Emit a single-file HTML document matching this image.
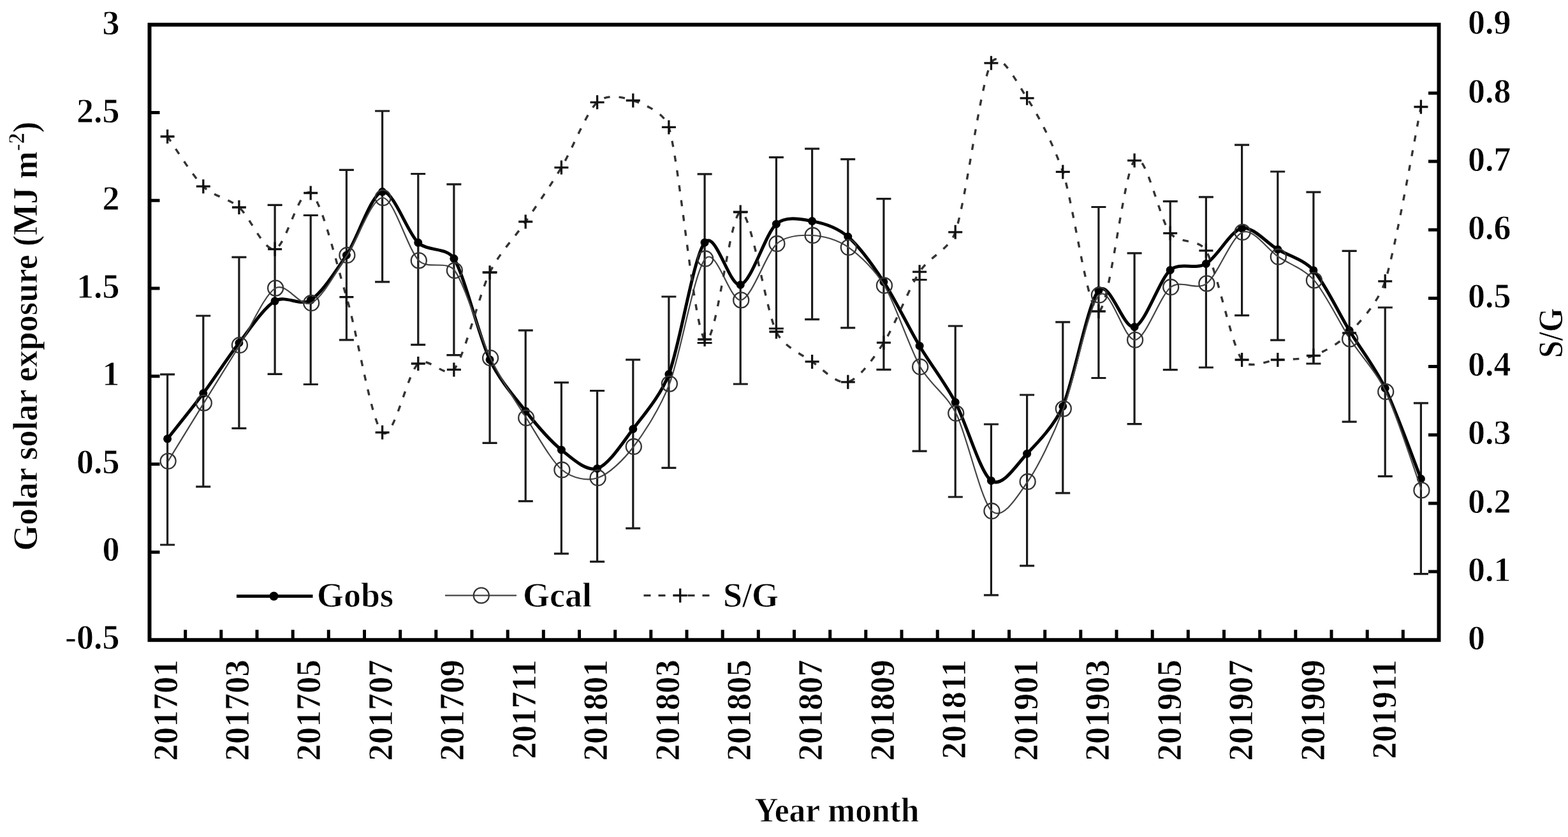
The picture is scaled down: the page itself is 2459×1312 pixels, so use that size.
<!DOCTYPE html>
<html><head><meta charset="utf-8"><title>Chart</title>
<style>html,body{margin:0;padding:0;background:#fff;}body{width:2459px;height:1312px;overflow:hidden;}svg{display:block;}</style>
</head><body>
<svg width="2459" height="1312" viewBox="0 0 2459 1312">
<rect width="100%" height="100%" fill="#fff"/>
<g font-family="'Liberation Serif','Times New Roman',serif" font-weight="bold" font-size="54" fill="#000" stroke="#fff" stroke-width="0.80">
<text x="187.5" y="1016.6" text-anchor="end">-0.5</text>
<text x="187.5" y="879.1" text-anchor="end">0</text>
<text x="187.5" y="741.7" text-anchor="end">0.5</text>
<text x="187.5" y="604.2" text-anchor="end">1</text>
<text x="187.5" y="466.8" text-anchor="end">1.5</text>
<text x="187.5" y="329.3" text-anchor="end">2</text>
<text x="187.5" y="191.9" text-anchor="end">2.5</text>
<text x="187.5" y="54.4" text-anchor="end">3</text>
<text x="2302" y="1017.8">0</text>
<text x="2302" y="910.6">0.1</text>
<text x="2302" y="803.5">0.2</text>
<text x="2302" y="696.3">0.3</text>
<text x="2302" y="589.1">0.4</text>
<text x="2302" y="482.0">0.5</text>
<text x="2302" y="374.8">0.6</text>
<text x="2302" y="267.6">0.7</text>
<text x="2302" y="160.5">0.8</text>
<text x="2302" y="53.3">0.9</text>
<text transform="translate(277.5,1034.0) rotate(-90) scale(0.980,1)" text-anchor="end">201701</text>
<text transform="translate(389.9,1034.0) rotate(-90) scale(0.980,1)" text-anchor="end">201703</text>
<text transform="translate(502.4,1034.0) rotate(-90) scale(0.980,1)" text-anchor="end">201705</text>
<text transform="translate(614.8,1034.0) rotate(-90) scale(0.980,1)" text-anchor="end">201707</text>
<text transform="translate(727.2,1034.0) rotate(-90) scale(0.980,1)" text-anchor="end">201709</text>
<text transform="translate(839.7,1034.0) rotate(-90) scale(0.980,1)" text-anchor="end">201711</text>
<text transform="translate(952.1,1034.0) rotate(-90) scale(0.980,1)" text-anchor="end">201801</text>
<text transform="translate(1064.6,1034.0) rotate(-90) scale(0.980,1)" text-anchor="end">201803</text>
<text transform="translate(1177.0,1034.0) rotate(-90) scale(0.980,1)" text-anchor="end">201805</text>
<text transform="translate(1289.4,1034.0) rotate(-90) scale(0.980,1)" text-anchor="end">201807</text>
<text transform="translate(1401.9,1034.0) rotate(-90) scale(0.980,1)" text-anchor="end">201809</text>
<text transform="translate(1514.3,1034.0) rotate(-90) scale(0.980,1)" text-anchor="end">201811</text>
<text transform="translate(1626.7,1034.0) rotate(-90) scale(0.980,1)" text-anchor="end">201901</text>
<text transform="translate(1739.2,1034.0) rotate(-90) scale(0.980,1)" text-anchor="end">201903</text>
<text transform="translate(1851.6,1034.0) rotate(-90) scale(0.980,1)" text-anchor="end">201905</text>
<text transform="translate(1964.0,1034.0) rotate(-90) scale(0.980,1)" text-anchor="end">201907</text>
<text transform="translate(2076.5,1034.0) rotate(-90) scale(0.980,1)" text-anchor="end">201909</text>
<text transform="translate(2188.9,1034.0) rotate(-90) scale(0.980,1)" text-anchor="end">201911</text>
<text transform="translate(57.6,863.5) rotate(-90) scale(0.967,1)">Golar solar exposure (MJ m<tspan font-size="36" dy="-20">-2</tspan><tspan dy="20">)</tspan></text>
<text transform="translate(2449.5,521.8) rotate(-90) scale(0.900,1)" text-anchor="middle">S/G</text>
<text transform="translate(1312.3,1288.3) scale(0.955,1)" text-anchor="middle">Year month</text>
<text x="497" y="951">Gobs</text>
<text x="820" y="951">Gcal</text>
<text x="1134" y="951">S/G</text>
</g>
<g stroke="#000" fill="none">
<rect x="234.5" y="38.7" width="2022.0" height="964.5" stroke-width="6"/>
<path d="M234.5,865.4h16 M234.5,727.6h16 M234.5,589.8h16 M234.5,452.1h16 M234.5,314.3h16 M234.5,176.5h16 M2256.5,896.0h-16.5 M2256.5,788.9h-16.5 M2256.5,681.7h-16.5 M2256.5,574.5h-16.5 M2256.5,467.4h-16.5 M2256.5,360.2h-16.5 M2256.5,253.0h-16.5 M2256.5,145.9h-16.5 M290.7,1003.2v-16 M346.8,1003.2v-16 M403.0,1003.2v-16 M459.2,1003.2v-16 M515.3,1003.2v-16 M571.5,1003.2v-16 M627.7,1003.2v-16 M683.8,1003.2v-16 M740.0,1003.2v-16 M796.2,1003.2v-16 M852.3,1003.2v-16 M908.5,1003.2v-16 M964.7,1003.2v-16 M1020.8,1003.2v-16 M1077.0,1003.2v-16 M1133.2,1003.2v-16 M1189.3,1003.2v-16 M1245.5,1003.2v-16 M1301.7,1003.2v-16 M1357.8,1003.2v-16 M1414.0,1003.2v-16 M1470.2,1003.2v-16 M1526.3,1003.2v-16 M1582.5,1003.2v-16 M1638.7,1003.2v-16 M1694.8,1003.2v-16 M1751.0,1003.2v-16 M1807.2,1003.2v-16 M1863.3,1003.2v-16 M1919.5,1003.2v-16 M1975.7,1003.2v-16 M2031.8,1003.2v-16 M2088.0,1003.2v-16 M2144.2,1003.2v-16 M2200.3,1003.2v-16" stroke-width="5"/>
</g>
<path d="M262.6,586.9V854.0 M251.1,586.9h23M251.1,854.0h23 M318.8,495.0V762.8 M307.2,495.0h23M307.2,762.8h23 M374.9,403.1V671.3 M363.4,403.1h23M363.4,671.3h23 M431.1,321.3V586.4 M419.6,321.3h23M419.6,586.4h23 M487.2,337.5V602.5 M475.8,337.5h23M475.8,602.5h23 M543.4,266.3V532.8 M531.9,266.3h23M531.9,532.8h23 M599.6,174.0V441.9 M588.1,174.0h23M588.1,441.9h23 M655.8,272.5V540.3 M644.2,272.5h23M644.2,540.3h23 M711.9,288.8V556.6 M700.4,288.8h23M700.4,556.6h23 M768.1,426.9V694.4 M756.6,426.9h23M756.6,694.4h23 M824.2,517.8V785.6 M812.8,517.8h23M812.8,785.6h23 M880.4,599.7V867.8 M868.9,599.7h23M868.9,867.8h23 M936.6,612.5V880.3 M925.1,612.5h23M925.1,880.3h23 M992.8,563.8V828.1 M981.2,563.8h23M981.2,828.1h23 M1048.9,465.0V733.4 M1037.4,465.0h23M1037.4,733.4h23 M1105.1,272.8V537.5 M1093.6,272.8h23M1093.6,537.5h23 M1161.2,332.0V602.0 M1149.8,332.0h23M1149.8,602.0h23 M1217.4,246.6V515.0 M1205.9,246.6h23M1205.9,515.0h23 M1273.6,233.1V500.6 M1262.1,233.1h23M1262.1,500.6h23 M1329.8,249.7V513.8 M1318.2,249.7h23M1318.2,513.8h23 M1385.9,311.6V579.4 M1374.4,311.6h23M1374.4,579.4h23 M1442.1,438.5V707.2 M1430.6,438.5h23M1430.6,707.2h23 M1498.2,511.0V779.0 M1486.8,511.0h23M1486.8,779.0h23 M1554.4,665.0V932.8 M1542.9,665.0h23M1542.9,932.8h23 M1610.6,619.0V886.9 M1599.1,619.0h23M1599.1,886.9h23 M1666.8,504.8V772.8 M1655.2,504.8h23M1655.2,772.8h23 M1722.9,324.5V592.5 M1711.4,324.5h23M1711.4,592.5h23 M1779.1,396.9V664.7 M1767.6,396.9h23M1767.6,664.7h23 M1835.2,315.6V579.7 M1823.8,315.6h23M1823.8,579.7h23 M1891.4,308.8V576.0 M1879.9,308.8h23M1879.9,576.0h23 M1947.6,227.2V494.4 M1936.1,227.2h23M1936.1,494.4h23 M2003.8,269.0V533.1 M1992.2,269.0h23M1992.2,533.1h23 M2059.9,301.2V570.0 M2048.4,301.2h23M2048.4,570.0h23 M2116.1,393.4V661.2 M2104.6,393.4h23M2104.6,661.2h23 M2172.2,482.0V746.6 M2160.8,482.0h23M2160.8,746.6h23 M2228.4,631.9V899.7 M2216.9,631.9h23M2216.9,899.7h23" stroke="#1a1a1a" stroke-width="3.2" fill="none"/>
<path d="M262.58,687.80 C271.22,676.85 301.47,639.72 318.75,616.60 C336.03,593.48 357.63,559.76 374.92,537.50 C392.20,515.24 413.80,482.24 431.08,471.90 C447.96,461.80 470.69,480.90 487.25,470.30 C504.53,459.24 526.13,426.11 543.42,400.00 C560.70,373.89 582.30,303.63 599.58,300.60 C616.87,297.57 638.47,364.19 655.75,380.30 C671.49,394.97 700.68,386.95 711.92,405.30 C729.20,433.52 750.80,526.97 768.08,563.75 C782.71,594.88 806.97,622.64 824.25,644.40 C841.53,666.16 863.13,691.35 880.42,705.20 C897.70,719.05 919.30,739.43 936.58,734.40 C953.87,729.37 975.47,695.24 992.75,672.50 C1010.03,649.76 1036.03,620.13 1048.92,586.60 C1066.20,541.63 1087.80,401.75 1105.08,380.20 C1122.37,358.65 1143.97,450.96 1161.25,446.50 C1178.53,442.04 1200.13,366.57 1217.42,351.20 C1232.16,338.09 1256.30,343.55 1273.58,346.60 C1290.87,349.65 1313.41,357.13 1329.75,371.00 C1347.03,385.66 1368.63,415.56 1385.92,441.90 C1403.20,468.24 1424.80,513.17 1442.08,542.20 C1459.37,571.23 1481.04,598.24 1498.25,630.60 C1515.53,663.09 1537.13,740.99 1554.42,753.40 C1571.70,765.81 1593.52,728.94 1610.58,711.25 C1627.87,693.33 1653.63,666.76 1666.75,636.90 C1684.03,597.55 1705.63,474.64 1722.92,455.50 C1740.20,436.36 1761.80,517.44 1779.08,512.50 C1796.37,507.56 1817.97,438.65 1835.25,423.40 C1850.22,410.19 1874.17,423.47 1891.42,413.40 C1908.70,403.31 1930.30,361.25 1947.58,357.80 C1964.87,354.35 1986.47,380.85 2003.75,391.00 C2021.03,401.15 2044.84,406.70 2059.92,423.75 C2077.20,443.29 2098.80,489.58 2116.08,518.00 C2133.37,546.42 2156.04,574.93 2172.25,608.50 C2189.53,644.28 2219.78,728.74 2228.42,750.60" stroke="#000" stroke-width="5" fill="none" stroke-linejoin="round"/>
<circle cx="262.6" cy="687.8" r="6.5" fill="#000"/>
<circle cx="318.8" cy="616.6" r="6.5" fill="#000"/>
<circle cx="374.9" cy="537.5" r="6.5" fill="#000"/>
<circle cx="431.1" cy="471.9" r="6.5" fill="#000"/>
<circle cx="487.2" cy="470.3" r="6.5" fill="#000"/>
<circle cx="543.4" cy="400.0" r="6.5" fill="#000"/>
<circle cx="599.6" cy="300.6" r="6.5" fill="#000"/>
<circle cx="655.8" cy="380.3" r="6.5" fill="#000"/>
<circle cx="711.9" cy="405.3" r="6.5" fill="#000"/>
<circle cx="768.1" cy="563.8" r="6.5" fill="#000"/>
<circle cx="824.2" cy="644.4" r="6.5" fill="#000"/>
<circle cx="880.4" cy="705.2" r="6.5" fill="#000"/>
<circle cx="936.6" cy="734.4" r="6.5" fill="#000"/>
<circle cx="992.8" cy="672.5" r="6.5" fill="#000"/>
<circle cx="1048.9" cy="586.6" r="6.5" fill="#000"/>
<circle cx="1105.1" cy="380.2" r="6.5" fill="#000"/>
<circle cx="1161.2" cy="446.5" r="6.5" fill="#000"/>
<circle cx="1217.4" cy="351.2" r="6.5" fill="#000"/>
<circle cx="1273.6" cy="346.6" r="6.5" fill="#000"/>
<circle cx="1329.8" cy="371.0" r="6.5" fill="#000"/>
<circle cx="1385.9" cy="441.9" r="6.5" fill="#000"/>
<circle cx="1442.1" cy="542.2" r="6.5" fill="#000"/>
<circle cx="1498.2" cy="630.6" r="6.5" fill="#000"/>
<circle cx="1554.4" cy="753.4" r="6.5" fill="#000"/>
<circle cx="1610.6" cy="711.2" r="6.5" fill="#000"/>
<circle cx="1666.8" cy="636.9" r="6.5" fill="#000"/>
<circle cx="1722.9" cy="455.5" r="6.5" fill="#000"/>
<circle cx="1779.1" cy="512.5" r="6.5" fill="#000"/>
<circle cx="1835.2" cy="423.4" r="6.5" fill="#000"/>
<circle cx="1891.4" cy="413.4" r="6.5" fill="#000"/>
<circle cx="1947.6" cy="357.8" r="6.5" fill="#000"/>
<circle cx="2003.8" cy="391.0" r="6.5" fill="#000"/>
<circle cx="2059.9" cy="423.8" r="6.5" fill="#000"/>
<circle cx="2116.1" cy="518.0" r="6.5" fill="#000"/>
<circle cx="2172.2" cy="608.5" r="6.5" fill="#000"/>
<circle cx="2228.4" cy="750.6" r="6.5" fill="#000"/>
<path d="M263.58,722.80 C272.22,708.77 302.47,659.57 319.75,631.60 C337.03,603.63 358.63,568.69 375.92,541.00 C393.20,513.31 414.80,461.75 432.08,451.60 C449.37,441.45 470.97,482.94 488.25,475.00 C505.53,467.06 527.13,425.38 544.42,400.00 C561.70,374.62 583.30,308.71 600.58,310.00 C617.87,311.29 639.47,390.86 656.75,408.40 C671.07,422.93 700.83,407.56 712.92,424.00 C730.20,447.52 751.80,525.71 769.08,561.25 C785.81,595.65 807.97,628.04 825.25,655.00 C842.53,681.96 864.13,722.04 881.42,736.50 C896.86,749.42 920.30,754.62 937.58,749.00 C954.87,743.38 977.94,720.75 993.75,700.00 C1011.03,677.32 1035.78,638.65 1049.92,601.60 C1067.20,556.29 1088.80,425.68 1106.08,405.50 C1123.37,385.32 1144.97,474.02 1162.25,470.40 C1179.53,466.78 1201.13,397.60 1218.42,382.00 C1233.39,368.48 1257.30,368.11 1274.58,369.00 C1291.87,369.89 1313.76,375.93 1330.75,387.80 C1348.03,399.88 1372.16,422.90 1386.92,447.50 C1404.20,476.30 1425.80,544.18 1443.08,575.00 C1458.83,603.07 1484.93,618.98 1499.25,647.80 C1516.53,682.57 1538.13,784.51 1555.42,801.00 C1572.70,817.49 1597.01,775.81 1611.58,755.00 C1628.87,730.32 1651.76,682.24 1667.75,640.60 C1685.03,595.60 1706.63,479.08 1723.92,462.50 C1741.20,445.92 1762.80,534.72 1780.08,532.80 C1797.37,530.88 1818.97,463.60 1836.25,450.00 C1851.78,437.78 1876.73,456.41 1892.42,444.40 C1909.70,431.17 1931.30,370.45 1948.58,364.00 C1965.87,357.55 1987.47,390.90 2004.75,402.50 C2022.03,414.10 2045.46,421.67 2060.92,439.40 C2078.20,459.23 2099.80,504.54 2117.08,531.40 C2134.37,558.26 2158.28,582.41 2173.25,614.00 C2190.53,650.46 2220.78,744.65 2229.42,768.40" stroke="#444" stroke-width="2.2" fill="none"/>
<circle cx="263.6" cy="722.8" r="12" fill="none" stroke="#333" stroke-width="2.3"/>
<circle cx="319.8" cy="631.6" r="12" fill="none" stroke="#333" stroke-width="2.3"/>
<circle cx="375.9" cy="541.0" r="12" fill="none" stroke="#333" stroke-width="2.3"/>
<circle cx="432.1" cy="451.6" r="12" fill="none" stroke="#333" stroke-width="2.3"/>
<circle cx="488.2" cy="475.0" r="12" fill="none" stroke="#333" stroke-width="2.3"/>
<circle cx="544.4" cy="400.0" r="12" fill="none" stroke="#333" stroke-width="2.3"/>
<circle cx="600.6" cy="310.0" r="12" fill="none" stroke="#333" stroke-width="2.3"/>
<circle cx="656.8" cy="408.4" r="12" fill="none" stroke="#333" stroke-width="2.3"/>
<circle cx="712.9" cy="424.0" r="12" fill="none" stroke="#333" stroke-width="2.3"/>
<circle cx="769.1" cy="561.2" r="12" fill="none" stroke="#333" stroke-width="2.3"/>
<circle cx="825.2" cy="655.0" r="12" fill="none" stroke="#333" stroke-width="2.3"/>
<circle cx="881.4" cy="736.5" r="12" fill="none" stroke="#333" stroke-width="2.3"/>
<circle cx="937.6" cy="749.0" r="12" fill="none" stroke="#333" stroke-width="2.3"/>
<circle cx="993.8" cy="700.0" r="12" fill="none" stroke="#333" stroke-width="2.3"/>
<circle cx="1049.9" cy="601.6" r="12" fill="none" stroke="#333" stroke-width="2.3"/>
<circle cx="1106.1" cy="405.5" r="12" fill="none" stroke="#333" stroke-width="2.3"/>
<circle cx="1162.2" cy="470.4" r="12" fill="none" stroke="#333" stroke-width="2.3"/>
<circle cx="1218.4" cy="382.0" r="12" fill="none" stroke="#333" stroke-width="2.3"/>
<circle cx="1274.6" cy="369.0" r="12" fill="none" stroke="#333" stroke-width="2.3"/>
<circle cx="1330.8" cy="387.8" r="12" fill="none" stroke="#333" stroke-width="2.3"/>
<circle cx="1386.9" cy="447.5" r="12" fill="none" stroke="#333" stroke-width="2.3"/>
<circle cx="1443.1" cy="575.0" r="12" fill="none" stroke="#333" stroke-width="2.3"/>
<circle cx="1499.2" cy="647.8" r="12" fill="none" stroke="#333" stroke-width="2.3"/>
<circle cx="1555.4" cy="801.0" r="12" fill="none" stroke="#333" stroke-width="2.3"/>
<circle cx="1611.6" cy="755.0" r="12" fill="none" stroke="#333" stroke-width="2.3"/>
<circle cx="1667.8" cy="640.6" r="12" fill="none" stroke="#333" stroke-width="2.3"/>
<circle cx="1723.9" cy="462.5" r="12" fill="none" stroke="#333" stroke-width="2.3"/>
<circle cx="1780.1" cy="532.8" r="12" fill="none" stroke="#333" stroke-width="2.3"/>
<circle cx="1836.2" cy="450.0" r="12" fill="none" stroke="#333" stroke-width="2.3"/>
<circle cx="1892.4" cy="444.4" r="12" fill="none" stroke="#333" stroke-width="2.3"/>
<circle cx="1948.6" cy="364.0" r="12" fill="none" stroke="#333" stroke-width="2.3"/>
<circle cx="2004.8" cy="402.5" r="12" fill="none" stroke="#333" stroke-width="2.3"/>
<circle cx="2060.9" cy="439.4" r="12" fill="none" stroke="#333" stroke-width="2.3"/>
<circle cx="2117.1" cy="531.4" r="12" fill="none" stroke="#333" stroke-width="2.3"/>
<circle cx="2173.2" cy="614.0" r="12" fill="none" stroke="#333" stroke-width="2.3"/>
<circle cx="2229.4" cy="768.4" r="12" fill="none" stroke="#333" stroke-width="2.3"/>
<path d="M262.58,214.00 C271.22,226.03 301.47,275.12 318.75,292.20 C334.94,308.20 357.79,310.00 374.92,325.00 C392.20,340.14 413.80,394.06 431.08,390.60 C448.37,387.14 469.97,290.96 487.25,302.50 C504.53,314.04 526.13,407.86 543.42,465.60 C560.70,523.34 582.30,661.74 599.58,677.80 C616.87,693.86 638.47,585.14 655.75,570.00 C670.74,556.87 699.59,595.07 711.92,579.40 C729.20,557.43 750.80,462.88 768.08,427.20 C782.96,396.49 806.97,372.82 824.25,347.50 C841.53,322.18 863.13,291.40 880.42,262.60 C897.70,233.80 919.30,176.47 936.58,160.30 C950.96,146.85 975.47,151.48 992.75,157.50 C1010.03,163.52 1041.87,175.91 1048.92,199.40 C1066.20,257.02 1087.80,511.51 1105.08,532.00 C1122.37,552.49 1143.97,334.45 1161.25,332.60 C1178.53,330.75 1200.13,483.95 1217.42,520.00 C1228.49,543.09 1256.30,554.78 1273.58,566.90 C1290.87,579.02 1312.47,603.32 1329.75,598.75 C1347.03,594.18 1370.00,561.64 1385.92,537.20 C1403.20,510.66 1424.80,452.93 1442.08,426.25 C1458.07,401.56 1488.71,391.57 1498.25,363.75 C1515.53,313.37 1537.13,131.06 1554.42,98.75 C1567.39,74.49 1595.46,130.77 1610.58,153.75 C1627.87,180.00 1652.41,226.75 1666.75,269.40 C1684.03,320.82 1705.63,490.74 1722.92,488.00 C1740.20,485.26 1761.80,270.43 1779.08,251.60 C1796.37,232.77 1817.97,343.88 1835.25,365.60 C1848.85,382.69 1880.65,373.79 1891.42,392.80 C1908.70,423.32 1930.30,537.66 1947.58,564.00 C1958.37,580.44 1986.47,565.00 2003.75,564.00 C2021.03,563.00 2042.63,563.96 2059.92,557.50 C2077.20,551.04 2099.95,538.75 2116.08,522.00 C2133.37,504.06 2161.82,473.81 2172.25,440.90 C2189.53,386.36 2219.78,209.56 2228.42,167.50" stroke="#333" stroke-width="3.4" fill="none" stroke-dasharray="9.5 14"/>
<path d="M251.6,214.0h22M262.6,203.0v22 M307.8,292.2h22M318.8,281.2v22 M363.9,325.0h22M374.9,314.0v22 M420.1,390.6h22M431.1,379.6v22 M476.2,302.5h22M487.2,291.5v22 M532.4,465.6h22M543.4,454.6v22 M588.6,677.8h22M599.6,666.8v22 M644.8,570.0h22M655.8,559.0v22 M700.9,579.4h22M711.9,568.4v22 M757.1,427.2h22M768.1,416.2v22 M813.2,347.5h22M824.2,336.5v22 M869.4,262.6h22M880.4,251.6v22 M925.6,160.3h22M936.6,149.3v22 M981.8,157.5h22M992.8,146.5v22 M1037.9,199.4h22M1048.9,188.4v22 M1094.1,532.0h22M1105.1,521.0v22 M1150.2,332.6h22M1161.2,321.6v22 M1206.4,520.0h22M1217.4,509.0v22 M1262.6,566.9h22M1273.6,555.9v22 M1318.8,598.8h22M1329.8,587.8v22 M1374.9,537.2h22M1385.9,526.2v22 M1431.1,426.2h22M1442.1,415.2v22 M1487.2,363.8h22M1498.2,352.8v22 M1543.4,98.8h22M1554.4,87.8v22 M1599.6,153.8h22M1610.6,142.8v22 M1655.8,269.4h22M1666.8,258.4v22 M1711.9,488.0h22M1722.9,477.0v22 M1768.1,251.6h22M1779.1,240.6v22 M1824.2,365.6h22M1835.2,354.6v22 M1880.4,392.8h22M1891.4,381.8v22 M1936.6,564.0h22M1947.6,553.0v22 M1992.8,564.0h22M2003.8,553.0v22 M2048.9,557.5h22M2059.9,546.5v22 M2105.1,522.0h22M2116.1,511.0v22 M2161.2,440.9h22M2172.2,429.9v22 M2217.4,167.5h22M2228.4,156.5v22" stroke="#111" stroke-width="3.3" fill="none"/>
<path d="M371,934.5H490.5" stroke="#000" stroke-width="5"/>
<circle cx="429.5" cy="934.5" r="7" fill="#000"/>
<path d="M698,933.4H810" stroke="#444" stroke-width="2.2"/>
<circle cx="754.8" cy="933.4" r="12" fill="none" stroke="#333" stroke-width="2.3"/>
<path d="M1009.5,933.4H1115.5" stroke="#333" stroke-width="3.4" stroke-dasharray="11 12"/>
<path d="M1055.7,933.4h22M1066.7,922.4v22" stroke="#111" stroke-width="3.3"/>
</svg>
</body></html>
